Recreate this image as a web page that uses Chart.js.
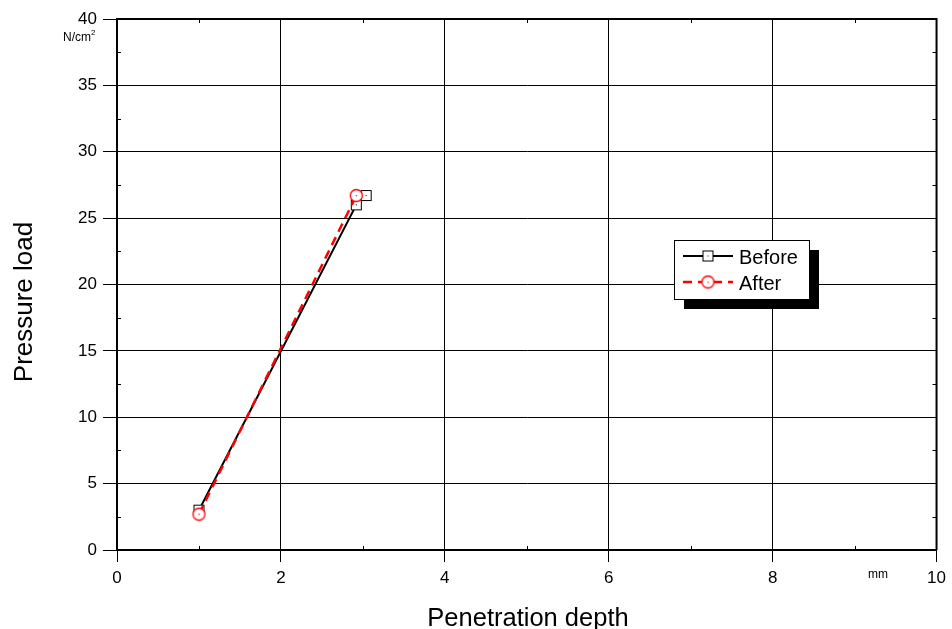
<!DOCTYPE html>
<html>
<head>
<meta charset="utf-8">
<script src="https://cdn.jsdelivr.net/npm/chart.js@4.4.1/dist/chart.umd.min.js"></script>
<style>
  html, body { margin: 0; padding: 0; background: #fff; }
  #wrap { width: 952px; height: 629px; }
</style>
</head>
<body>
<div id="wrap"><canvas id="chart"></canvas></div>
<script>
// data
const beforeX = [1.0, 2.92, 3.04];
const beforeY = [3.0, 26.0, 26.7];
const afterX = [1.0, 2.92];
const afterY = [2.7, 26.7];

const xTicks = [0, 2, 4, 6, 8, 10];
const yTicks = [0, 5, 10, 15, 20, 25, 30, 35, 40];
const xMinor = [1, 3, 5, 7, 9];
const yMinor = [2.5, 7.5, 12.5, 17.5, 22.5, 27.5, 32.5, 37.5];

const FONT = '"Liberation Sans", Arial, sans-serif';

// marker images (square / circle with a dot in the middle)
function squareMarker() {
    const c = document.createElement('canvas');
    c.width = 13; c.height = 13;
    const g = c.getContext('2d');
    g.fillStyle = '#fff';
    g.fillRect(1, 1, 11, 11);
    g.strokeStyle = '#000';
    g.lineWidth = 1;
    g.strokeRect(1.5, 1.5, 10, 10);
    g.fillStyle = '#000';
    g.fillRect(6, 6, 1, 1);
    return c;
}
function circleMarker() {
    const c = document.createElement('canvas');
    c.width = 15; c.height = 15;
    const g = c.getContext('2d');
    g.fillStyle = '#fff';
    g.beginPath();
    g.arc(7.5, 7.5, 6, 0, Math.PI * 2);
    g.fill();
    g.strokeStyle = '#f00';
    g.lineWidth = 1.3;
    g.stroke();
    g.fillStyle = '#f00';
    g.fillRect(7, 7, 1.2, 1.2);
    return c;
}
const sq = squareMarker();
const ci = circleMarker();

const toPoints = (xs, ys) => xs.map((x, i) => ({ x: x, y: ys[i] }));

// frame, inner ticks, units, legend box, axis titles
const extras = {
    id: 'extras',
    afterDraw(chart) {
        const { ctx, chartArea: a, scales } = chart;
        const xs = scales.x, ys = scales.y;
        ctx.save();
        ctx.strokeStyle = '#000';
        ctx.lineWidth = 2;
        ctx.beginPath();
        ctx.moveTo(a.left, a.top);
        ctx.lineTo(a.right, a.top);
        ctx.lineTo(a.right, a.bottom);
        ctx.stroke();

        // minor ticks
        ctx.lineWidth = 1;
        ctx.beginPath();
        xMinor.forEach(v => {
            const px = Math.round(xs.getPixelForValue(v)) + 0.5;
            ctx.moveTo(px, a.bottom); ctx.lineTo(px, a.bottom - 4);
            ctx.moveTo(px, a.top); ctx.lineTo(px, a.top + 4);
        });
        yMinor.forEach(v => {
            const py = Math.round(ys.getPixelForValue(v)) + 0.5;
            ctx.moveTo(a.left, py); ctx.lineTo(a.left + 4, py);
            ctx.moveTo(a.right, py); ctx.lineTo(a.right - 4, py);
        });
        ctx.stroke();

        // units
        ctx.fillStyle = '#000';
        ctx.font = '12px ' + FONT;
        ctx.textAlign = 'left';
        ctx.textBaseline = 'alphabetic';
        ctx.fillText('N/cm', 63, 41);
        const w = ctx.measureText('N/cm').width;
        ctx.font = '8px ' + FONT;
        ctx.fillText('2', 63 + w, 35);
        ctx.font = '12px ' + FONT;
        ctx.textAlign = 'center';
        ctx.fillText('mm', 878, 578);

        // axis titles
        ctx.font = '25.5px ' + FONT;
        ctx.textAlign = 'center';
        ctx.textBaseline = 'alphabetic';
        ctx.fillText('Penetration depth', 528, 626);
        ctx.save();
        ctx.font = '26px ' + FONT;
        ctx.translate(32, 302);
        ctx.rotate(-Math.PI / 2);
        ctx.fillText('Pressure load', 0, 0);
        ctx.restore();

        // legend
        const lx = 674, ly = 240, lw = 135, lh = 59;
        ctx.fillStyle = '#000';
        ctx.fillRect(lx + 10, ly + 10, lw, lh);
        ctx.fillStyle = '#fff';
        ctx.fillRect(lx, ly, lw, lh);
        ctx.lineWidth = 1;
        ctx.strokeStyle = '#000';
        ctx.strokeRect(lx + 0.5, ly + 0.5, lw, lh);

        ctx.lineWidth = 2;
        ctx.beginPath();
        ctx.moveTo(683, 256); ctx.lineTo(733, 256);
        ctx.stroke();
        ctx.drawImage(sq, 708 - 6.5, 256 - 6.5);

        ctx.strokeStyle = '#f00';
        ctx.setLineDash([9, 6]);
        ctx.lineWidth = 2.5;
        ctx.beginPath();
        ctx.moveTo(683, 282); ctx.lineTo(733, 282);
        ctx.stroke();
        ctx.setLineDash([]);
        ctx.drawImage(ci, 708 - 7.5, 282 - 7.5);

        ctx.fillStyle = '#000';
        ctx.font = '20px ' + FONT;
        ctx.textAlign = 'left';
        ctx.textBaseline = 'middle';
        ctx.fillText('Before', 739, 258);
        ctx.fillText('After', 739, 284);
        ctx.restore();
    }
};

new Chart(document.getElementById('chart'), {
    type: 'scatter',
    data: {
        datasets: [
            {
                label: 'After',
                data: toPoints(afterX, afterY),
                showLine: true,
                borderColor: '#f00',
                borderWidth: 2.5,
                borderDash: [9, 6],
                pointStyle: ci,
                order: 0
            },
            {
                label: 'Before',
                data: toPoints(beforeX, beforeY),
                showLine: true,
                borderColor: '#000',
                borderWidth: 2,
                pointStyle: sq,
                order: 1
            }
        ]
    },
    options: {
        responsive: true,
        maintainAspectRatio: false,
        animation: false,
        layout: { padding: { top: 19, right: 11, left: 0, bottom: 0 } },
        plugins: {
            legend: { display: false },
            tooltip: { enabled: false }
        },
        scales: {
            x: {
                type: 'linear',
                min: 0, max: 10,
                afterBuildTicks: s => { s.ticks = xTicks.map(v => ({ value: v })); },
                afterFit: s => { s.height = 79; },
                grid: { color: '#000', lineWidth: 1, tickLength: 12, tickColor: '#000' },
                border: { color: '#000', width: 2 },
                ticks: { color: '#000', font: { family: FONT, size: 17 }, padding: 6, maxRotation: 0 }
            },
            y: {
                type: 'linear',
                min: 0, max: 40,
                afterBuildTicks: s => { s.ticks = yTicks.map(v => ({ value: v })); },
                afterFit: s => { s.width = 117; },
                grid: { color: '#000', lineWidth: 1, tickLength: 14, tickColor: '#000' },
                border: { color: '#000', width: 2 },
                ticks: { color: '#000', font: { family: FONT, size: 17 }, padding: 6 }
            }
        }
    },
    plugins: [extras]
});
</script>
</body>
</html>
